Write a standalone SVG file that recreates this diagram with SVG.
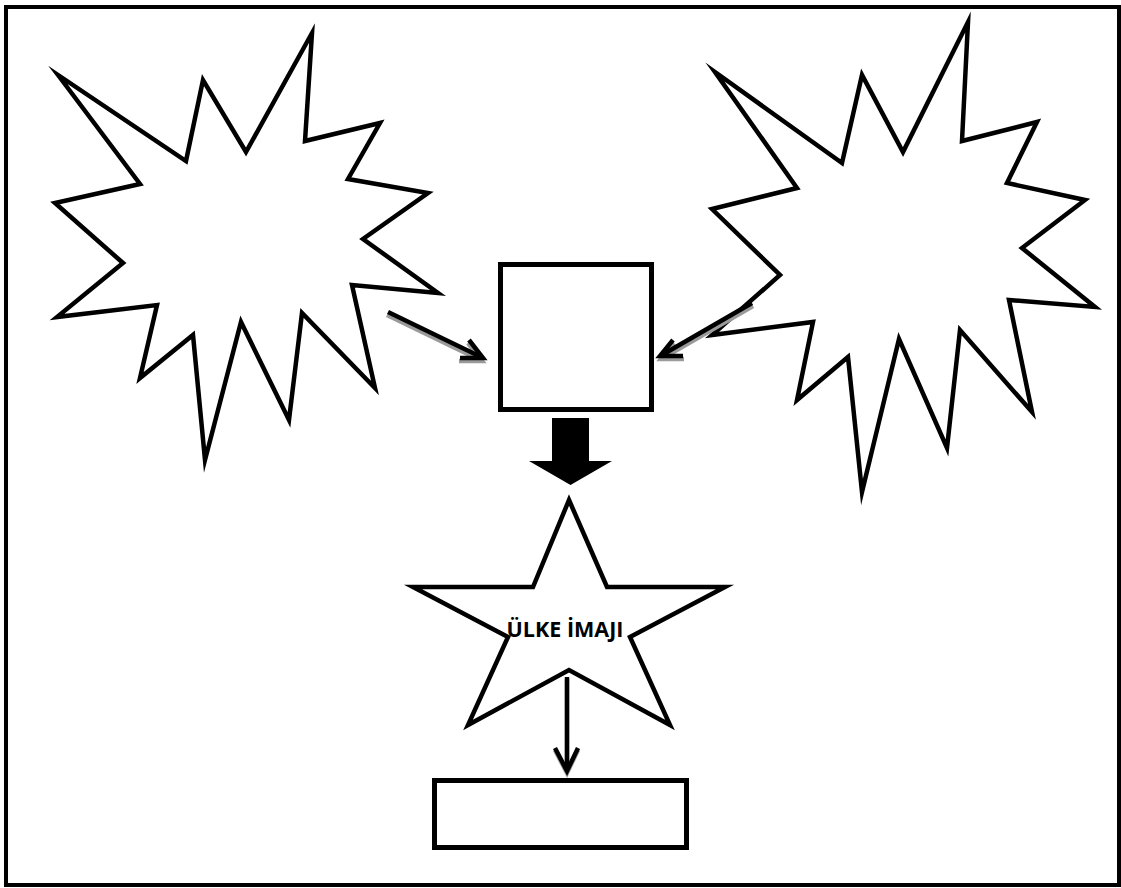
<svg xmlns="http://www.w3.org/2000/svg" width="1121" height="888" viewBox="0 0 1121 888">
  <defs>
    <style>
      .frame { fill: #ffffff; stroke: #000000; stroke-width: 4; }
      .shape { fill: #ffffff; stroke: #000000; stroke-width: 4.5; stroke-linejoin: miter; stroke-miterlimit: 20; }
      .box { fill: #ffffff; stroke: #000000; stroke-width: 5; }
      .link { fill: none; stroke: #000000; stroke-width: 4.5; stroke-linecap: butt; stroke-linejoin: miter; }
      .link-shadow { fill: none; stroke: #9a9a9a; stroke-width: 4.5; stroke-linejoin: miter; }
      .label { font-family: "Open Sans", "Liberation Sans", sans-serif; font-weight: bold; font-size: 21.5px; fill: #000000; }
    </style>
  </defs>

  <!-- page border -->
  <rect class="frame" x="6" y="7" width="1113" height="878"/>

  <!-- left burst -->
  <g id="burst-left">
    <polygon class="shape" points="58,75 140,184 55,203 123,263 57,317 157,305 140,378 193,335 205,460 241,322 289,420 302,313 375,388 352,285 438,293 363,239 428,193 348,179 380,123 305,141 312,33 246,152 203,80 186,161"/>
  </g>

  <!-- right burst -->
  <g id="burst-right">
    <polygon class="shape" points="715,72 842,163 862,75 903,152 968,22 962,141 1037,122 1007,183 1085,200 1022,248 1095,307 1009,300 1032,412 960,330 947,448 899,339 862,492 848,357 797,400 813,322 712,335 780,275 712,209 797,188"/>
  </g>

  <!-- centre square -->
  <g id="centre-box">
    <rect class="box" x="500.5" y="264.5" width="151" height="145"/>
  </g>

  <!-- five-point star with label -->
  <g id="country-image">
    <polygon class="shape" points="569,500 607,587 725,587 630,637 670,725 569,670 468,725 508,637 413,587 533,587"/>
    <text class="label" x="565" y="637" text-anchor="middle">ÜLKE İMAJI</text>
  </g>

  <!-- bottom box -->
  <g id="result-box">
    <rect class="box" x="434.5" y="780.5" width="252" height="67"/>
  </g>

  <!-- connectors -->
  <g id="connectors">
    <!-- left burst to square -->
    <g transform="translate(-1,3)">
      <polyline class="link-shadow" points="388,312 481,357"/>
      <polyline class="link-shadow" points="469,340 483,358 460,358"/>
    </g>
    <polyline class="link" points="388,312 481,357"/>
    <polyline class="link" points="469,340 483,358 460,358"/>

    <!-- right burst to square -->
    <g transform="translate(1,3)">
      <polyline class="link-shadow" points="752,303 662,355"/>
      <polyline class="link-shadow" points="673,340 660,356 683,356"/>
    </g>
    <polyline class="link" points="752,303 662,355"/>
    <polyline class="link" points="673,340 660,356 683,356"/>

    <!-- block arrow square to star -->
    <polygon fill="#000000" points="552,418 589,418 589,461 612,461 570.5,485 529,461 552,461"/>

    <!-- star to bottom box -->
    <g transform="translate(0,2)">
      <polyline class="link-shadow" points="567,677 567,770"/>
      <polyline class="link-shadow" points="555,748 567,771 578,748"/>
    </g>
    <polyline class="link" points="567,677 567,770"/>
    <polyline class="link" points="555,748 567,771 578,748"/>
  </g>
</svg>
